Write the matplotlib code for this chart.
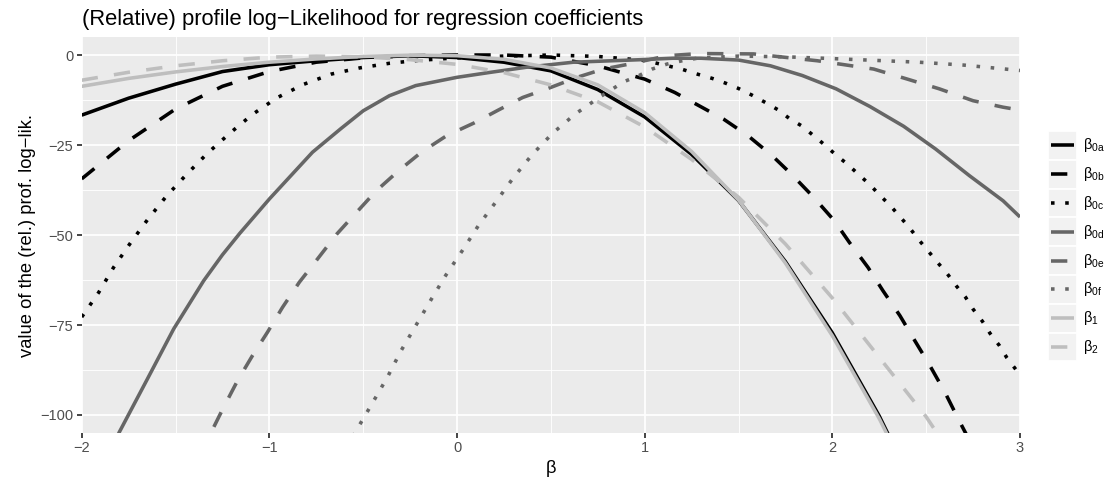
import matplotlib
matplotlib.use("Agg")
import matplotlib.pyplot as plt
from matplotlib.lines import Line2D
from matplotlib.patches import Rectangle

plt.rcParams['font.family'] = ['Liberation Sans', 'DejaVu Sans']

# ---- data (one x list per curve) ----
b0a_x = [-2.0, -1.75, -1.5, -1.25, -1.0, -0.75, -0.5, -0.25, 0.0, 0.25, 0.5,
         0.75, 1.0, 1.25, 1.5, 1.75, 2.0, 2.25, 2.5]
b0a_y = [-16.7, -12.0, -8.1, -4.6, -2.7, -1.6, -0.7, -0.2, -0.7, -2.0, -4.4,
         -9.6, -17.2, -27.6, -40.4, -57.4, -77.2, -100.3, -127.0]

b0b_x = [-2.0, -1.75, -1.5, -1.25, -1.0, -0.75, -0.5, -0.25, 0.0, 0.25, 0.5,
         0.75, 1.0, 1.16, 1.29, 1.42, 1.55, 1.68, 1.78, 1.90, 2.01, 2.09, 2.19,
         2.27, 2.36, 2.44, 2.52, 2.60, 2.67, 2.80]
b0b_y = [-34.4, -23.8, -15.0, -8.7, -4.6, -2.0, -0.8, -0.2, 0.0, 0.0, -0.6,
         -3.0, -6.7, -10.4, -14.1, -17.8, -22.4, -28.0, -33.0, -39.5, -46.0, -52.0, -59.0,
         -65.5, -72.4, -79.4, -86.3, -93.7, -101.0, -114.0]

b0c_x = [-2.0, -1.91, -1.83, -1.74, -1.65, -1.55, -1.44, -1.33, -1.21, -1.09,
         -0.96, -0.82, -0.67, -0.52, -0.36, -0.21, 0.0, 0.25, 0.5, 0.75, 1.0,
         1.195, 1.28, 1.36, 1.43, 1.5, 1.57, 1.64, 1.71, 1.77, 1.84, 1.90, 1.96,
         2.02, 2.08, 2.14, 2.20, 2.25, 2.31, 2.36, 2.41, 2.46, 2.51, 2.56, 2.61,
         2.66, 2.71, 2.75, 2.80, 2.84, 2.89, 2.93, 2.98, 3.0]
b0c_y = [-72.8, -66.0, -59.0, -52.2, -45.8, -39.3, -33.1, -27.3, -21.7, -16.5,
         -11.9, -8.2, -5.3, -3.6, -2.3, -1.5, -0.8, -0.3, 0.0, -0.4, -1.5,
         -3.9, -5.3, -6.5, -7.8, -9.3, -11.1, -13.1, -15.2, -17.6, -19.8, -22.4, -25.0,
         -27.8, -30.3, -33.2, -36.0, -38.8, -41.9, -44.9, -47.9, -51.3, -54.4, -57.6, -60.6,
         -64.1, -67.3, -70.6, -74.0, -77.3, -80.7, -84.1, -87.5, -88.5]

b0d_x = [-2.0, -1.80, -1.65, -1.51, -1.35, -1.25, -1.157, -1.0, -0.77, -0.62,
         -0.5, -0.36, -0.22, 0.0, 0.18, 0.37, 0.62, 0.98, 1.15, 1.3, 1.5, 1.67,
         1.84, 2.02, 2.20, 2.38, 2.55, 2.73, 2.91, 3.0]
b0d_y = [-128.0, -104.8, -90.0, -76.1, -62.7, -55.5, -49.5, -40.0, -27.0, -20.5,
         -15.5, -11.3, -8.5, -6.2, -4.8, -3.4, -2.0, -1.3, -0.9, -0.9, -1.4, -3.0,
         -5.7, -9.4, -14.3, -19.8, -26.1, -33.5, -40.5, -45.0]

b0e_x = [-1.5, -1.31, -1.25, -1.17, -1.09, -1.01, -0.93, -0.84, -0.75, -0.64,
         -0.56, -0.43, -0.31, -0.19, -0.055, 0.09, 0.22, 0.35, 0.50, 0.64, 0.78,
         0.92, 1.12, 1.29, 1.58, 1.74, 1.92, 2.22, 2.40, 2.57, 2.75, 2.91, 3.0]
b0e_y = [-126.0, -104.8, -98.5, -90.5, -83.5, -77.0, -70.1, -63.1, -57.1, -49.7,
         -45.1, -37.7, -32.1, -27.0, -22.4, -18.9, -15.3, -11.8, -9.0, -6.2, -3.9,
         -2.5, -0.2, 0.4, 0.3, -0.6, -1.6, -3.9, -6.7, -9.4, -12.7, -14.5, -15.3]

b0f_x = [-0.75, -0.53, -0.45, -0.37, -0.30, -0.22, -0.14, -0.06, 0.03, 0.115,
         0.21, 0.30, 0.40, 0.51, 0.63, 0.76, 0.89, 0.97, 1.04, 1.12, 1.2, 1.28,
         1.5, 1.75, 2.0, 2.14, 2.46, 2.70, 3.0]
b0f_y = [-124.0, -103.7, -96.6, -89.4, -82.3, -75.2, -68.1, -61.2, -54.2, -47.3,
         -40.6, -34.1, -27.7, -21.7, -16.4, -11.7, -7.4, -5.7, -3.9, -2.5, -1.6, -0.9,
         -0.3, -0.5, -1.0, -1.3, -2.0, -2.8, -4.3]

b1_x = [-2.0, -1.75, -1.5, -1.25, -1.0, -0.75, -0.5, -0.25, 0.0, 0.25, 0.5,
        0.75, 1.0, 1.25, 1.5, 1.75, 2.0, 2.25, 2.5]
b1_y = [-8.7, -6.5, -4.7, -3.2, -2.0, -1.1, -0.4, -0.05, -0.2, -1.2, -3.6,
        -8.3, -16.0, -26.8, -40.3, -57.8, -78.0, -101.0, -127.0]

b2_x = [-2.0, -1.75, -1.5, -1.25, -1.0, -0.75, -0.5, -0.25, 0.0, 0.25, 0.5,
        0.75, 1.0, 1.25, 1.5, 1.75, 2.0, 2.25, 2.5, 2.75]
b2_y = [-7.0, -4.8, -3.0, -1.6, -0.6, -0.3, -0.5, -1.3, -2.6, -4.9, -8.3,
        -13.0, -20.0, -29.0, -39.5, -52.5, -67.5, -84.0, -100.5, -120.0]

series_labels = ['0a', '0b', '0c', '0d', '0e', '0f', '1', '2']
series_x = [b0a_x, b0b_x, b0c_x, b0d_x, b0e_x, b0f_x, b1_x, b2_x]
series_y = [b0a_y, b0b_y, b0c_y, b0d_y, b0e_y, b0f_y, b1_y, b2_y]

x_ticks = [-2, -1, 0, 1, 2, 3]
x_ticklabels = ['\u22122', '\u22121', '0', '1', '2', '3']
y_ticks = [-100, -75, -50, -25, 0]
y_ticklabels = ['\u2212100', '\u221275', '\u221250', '\u221225', '0']

# ---- styles ----
DARK = '#666666'
LIGHT = '#BEBEBE'
LW = 2.13
dash = (0, (4.6, 4.6))
dot = (0, (1, 3))
styles = [('black', '-'), ('black', dash), ('black', dot),
          (DARK, '-'), (DARK, dash), (DARK, dot),
          (LIGHT, '-'), (LIGHT, dash)]

DPI = 120
W, H = 1105, 485
fig = plt.figure(figsize=(W / DPI, H / DPI), dpi=DPI)
ax = fig.add_axes([81.7 / W, 1 - 433 / H, (1020 - 81.7) / W, (433 - 37) / H])
ax.set_facecolor('#EBEBEB')
for s in ax.spines.values():
    s.set_visible(False)

ax.set_xlim(-2, 3)
ax.set_ylim(-105, 5)
ax.set_xticks(x_ticks)
ax.set_xticklabels(x_ticklabels)
ax.set_yticks(y_ticks)
ax.set_yticklabels(y_ticklabels)
ax.set_xticks([-1.5, -0.5, 0.5, 1.5, 2.5], minor=True)
ax.set_yticks([-87.5, -62.5, -37.5, -12.5], minor=True)
ax.grid(which='major', color='white', linewidth=1.07)
ax.grid(which='minor', color='white', linewidth=0.53)
ax.set_axisbelow(True)
ax.tick_params(which='major', length=2.75, width=1.07, color='#333333',
               labelsize=8.8, labelcolor='#4D4D4D', pad=2.2)
ax.tick_params(which='minor', length=0)

for (c, ls), xs, ys in zip(styles, series_x, series_y):
    ax.plot(xs, ys, color=c, linestyle=ls, linewidth=LW,
            solid_capstyle='butt', dash_capstyle='butt', solid_joinstyle='round')

ax.set_xlabel('\u03b2', fontsize=11, labelpad=2.75)
ax.set_ylabel('value of the (rel.) prof. log\u2212lik.', fontsize=11, labelpad=2.75)
fig.text(81.7 / W, 1 - 25.5 / H, '(Relative) profile log\u2212Likelihood for regression coefficients',
         fontsize=13.2, ha='left', va='baseline')

# ---- legend (manual, ggplot-like grey key boxes) ----
key_x0, key_w, key_h = 1048, 28.8, 28.8
top = 131
for i, ((c, ls), lab) in enumerate(zip(styles, series_labels)):
    y0 = top + i * key_h
    fig.add_artist(Rectangle((key_x0 / W, 1 - (y0 + key_h) / H), key_w / W, key_h / H,
                             transform=fig.transFigure, facecolor='#F2F2F2',
                             edgecolor='white', linewidth=1.07))
    yc = 1 - (y0 + key_h / 2) / H
    fig.add_artist(Line2D([(key_x0 + 2.9) / W, (key_x0 + key_w - 2.9) / W], [yc, yc],
                          transform=fig.transFigure, color=c, linestyle=ls,
                          linewidth=LW, solid_capstyle='butt', dash_capstyle='butt'))
    fig.text((key_x0 + key_w + 6) / W, yc, '\u03b2$_{\\mathregular{' + lab + '}}$',
             fontsize=8.8, ha='left', va='center', color='black')

fig.savefig('out.png', dpi=DPI)
